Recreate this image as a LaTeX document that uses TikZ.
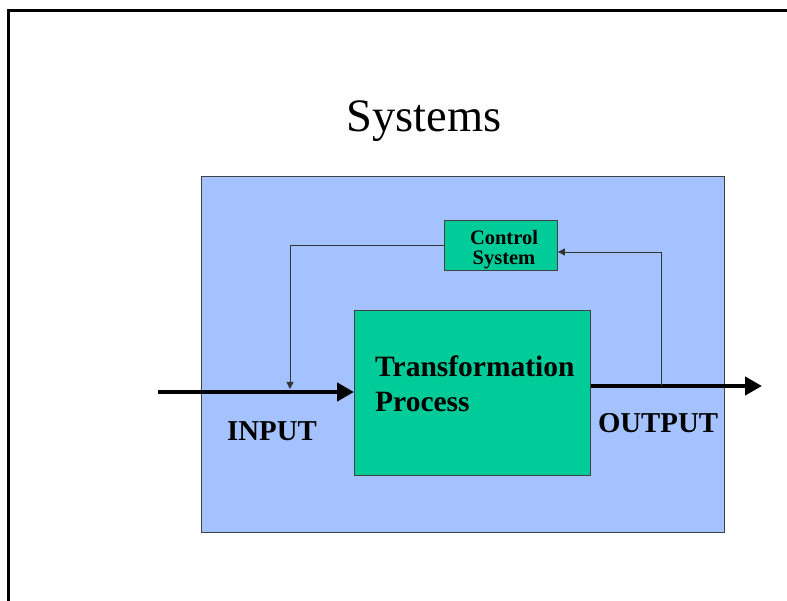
\documentclass[tikz,border=0pt]{standalone}
\usepackage{fontspec}
\setmainfont{Liberation Serif}
\usetikzlibrary{arrows.meta}
\definecolor{sysblue}{HTML}{A4C2FF}
\definecolor{sysgreen}{HTML}{00CC99}
\tikzset{
  x=1pt,y=-1pt,
  box/.style={draw=black!75,line width=0.9pt,inner sep=0pt,anchor=north west},
  thinline/.style={draw=black!80,line width=0.9pt},
  thickarrow/.style={line width=4.5pt,-{Triangle[length=17pt,width=18pt]}},
  lbl/.style={font=\bfseries\fontsize{28.8}{30}\selectfont,inner sep=0pt}
}
\begin{document}
\begin{tikzpicture}
\useasboundingbox (0,0) rectangle (787,601);
% slide frame
\draw[line width=3pt] (8,601) -- (8,10.5) -- (787,10.5);
% title
\node[font=\fontsize{46.5}{48}\selectfont,inner sep=0pt] (title) at (424,121) {Systems};
% outer system box
\node[box,fill=sysblue,minimum width=523pt,minimum height=356pt] (sys) at (201,176) {};
% transformation process
\node[box,fill=sysgreen,minimum width=236pt,minimum height=165pt] (proc) at (354,310) {};
\node[font=\bfseries\fontsize{29.5}{35}\selectfont,align=left,anchor=north west,inner sep=0pt] (proctext) at (375,356) {Transformation\\Process};
% control system
\node[box,fill=sysgreen,minimum width=113pt,minimum height=50pt] (ctrl) at (444,220) {};
\node[font=\bfseries\fontsize{20.5}{20}\selectfont,align=center,inner sep=0pt,anchor=center] (ctrltext) at (504,250) {Control\\System};
% input / output arrows
\coordinate (inS) at (158,392);
\coordinate (outE) at (762,386);
\coordinate (fbS) at (661,386);
\draw[thickarrow] (inS) -- (proc.west |- inS);
\draw[thickarrow] (proc.east |- outE) -- (outE);
% feedback loop
\draw[thinline,-{Triangle[length=7pt,width=7pt]}] (fbS) -- (661,252) -- (ctrl.east |- 0,252);
\draw[thinline,-{Triangle[length=7pt,width=7pt]}] (ctrl.west |- 0,245) -- (290,245) -- (290,389);
% labels
\node[lbl] (input) at (272,431) {INPUT};
\node[lbl] (output) at (658,423) {OUTPUT};
\end{tikzpicture}
\end{document}
